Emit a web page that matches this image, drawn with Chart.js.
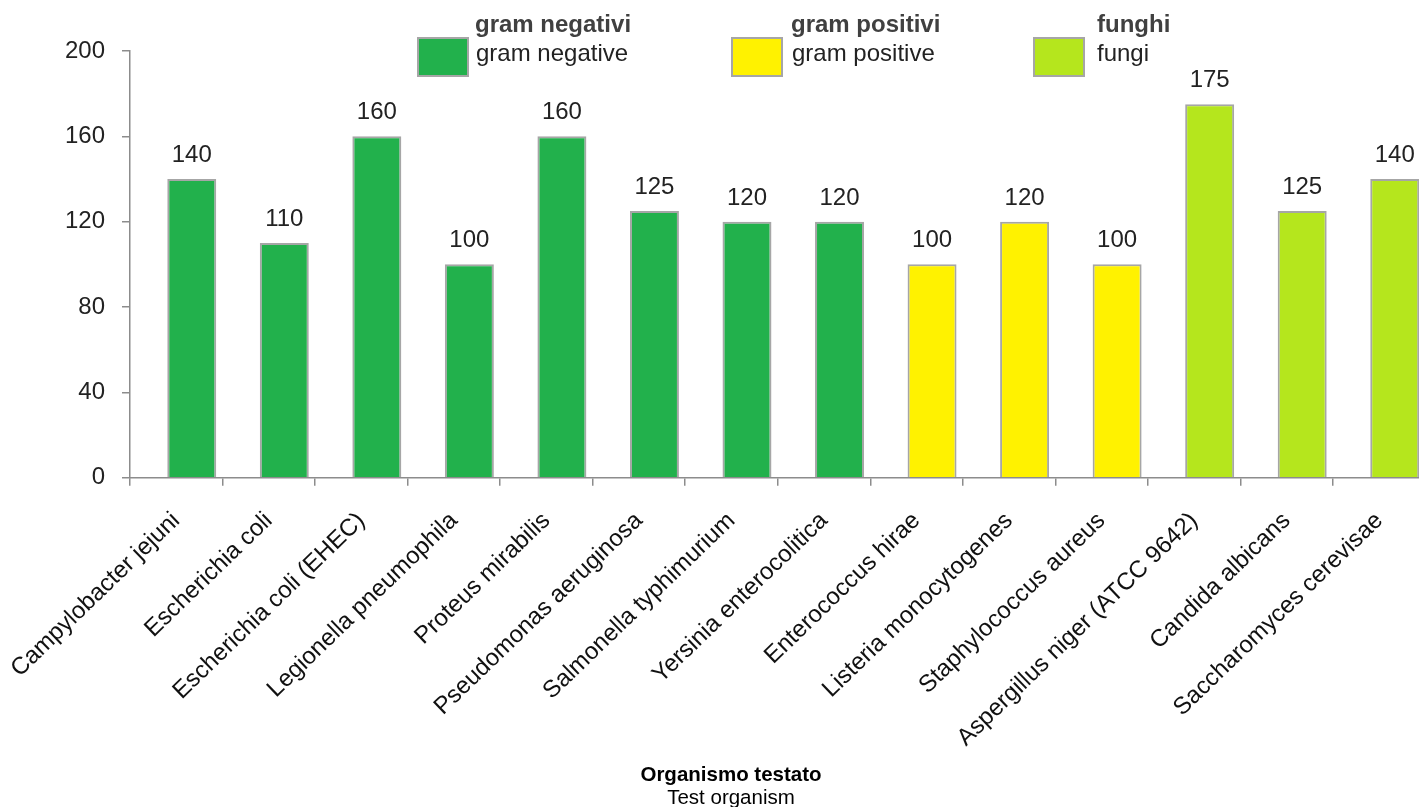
<!DOCTYPE html>
<html>
<head>
<meta charset="utf-8">
<script src="https://cdn.jsdelivr.net/npm/chart.js@4/dist/chart.umd.min.js"></script>
<style>
html,body{margin:0;padding:0;overflow:hidden;background:#fff;width:1419px;height:807px;}
#wrap{position:absolute;left:0;top:0;width:1430px;height:807px;}
.lg{position:absolute;font-family:"Liberation Sans",Arial,sans-serif;}
.box{position:absolute;width:48px;height:36px;border:2px solid #a6a6a6;}
.h{position:absolute;font-weight:bold;font-size:24px;color:#404040;white-space:nowrap;line-height:24px;}
.t{position:absolute;font-size:24px;color:#222;white-space:nowrap;line-height:24px;}
#xt{position:absolute;left:531px;width:400px;top:762px;text-align:center;font-family:"Liberation Sans",Arial,sans-serif;font-size:20.5px;color:#000;line-height:23px;}
</style>
</head>
<body>
<div id="wrap"><canvas id="c"></canvas></div>
<div class="lg">
  <div class="box" style="left:417px;top:37px;background:#22b14c"></div>
  <div class="h" style="left:475px;top:12px">gram negativi</div>
  <div class="t" style="left:476px;top:41px">gram negative</div>
  <div class="box" style="left:731px;top:37px;background:#fff200"></div>
  <div class="h" style="left:791px;top:12px">gram positivi</div>
  <div class="t" style="left:792px;top:41px">gram positive</div>
  <div class="box" style="left:1033px;top:37px;background:#b5e61d"></div>
  <div class="h" style="left:1097px;top:12px">funghi</div>
  <div class="t" style="left:1097px;top:41px">fungi</div>
</div>
<div id="xt"><b>Organismo testato</b><br>Test organism</div>
<script>
const categories = ["Campylobacter jejuni","Escherichia coli","Escherichia coli (EHEC)","Legionella pneumophila","Proteus mirabilis","Pseudomonas aeruginosa","Salmonella typhimurium","Yersinia enterocolitica","Enterococcus hirae","Listeria monocytogenes","Staphylococcus aureus","Aspergillus niger (ATCC 9642)","Candida albicans","Saccharomyces cerevisae"];
const values = [140,110,160,100,160,125,120,120,100,120,100,175,125,140];
const groups = ["neg","neg","neg","neg","neg","neg","neg","neg","pos","pos","pos","fun","fun","fun"];
const groupColors = {neg:"#22b14c", pos:"#fff200", fun:"#b5e61d"};
const yTicks = [0,40,80,120,160,200];

const FONT = "'Liberation Sans', Arial, sans-serif";
Chart.defaults.font.family = FONT;

const valueLabels = {
  id: 'valueLabels',
  afterDatasetsDraw(chart) {
    const ctx = chart.ctx;
    const meta = chart.getDatasetMeta(1);
    ctx.save();
    ctx.font = "24px " + FONT;
    ctx.fillStyle = "#222";
    ctx.textAlign = "center";
    ctx.textBaseline = "alphabetic";
    meta.data.forEach((bar, i) => {
      ctx.fillText(String(values[i]), bar.x, bar.y - 17);
    });
    ctx.restore();
  }
};

new Chart(document.getElementById('c'), {
  type: 'bar',
  data: {
    labels: categories,
    datasets: [
      { // empty slot: the original plot leaves a gap to the left of each bar
        data: categories.map(() => null),
        backgroundColor: "rgba(0,0,0,0)",
        borderWidth: 0
      },
      {
        data: values,
        backgroundColor: groups.map(g => groupColors[g]),
        borderColor: "#a6a6a6",
        borderWidth: 2
      }
    ]
  },
  options: {
    responsive: true,
    maintainAspectRatio: false,
    animation: false,
    categoryPercentage: 0.67,
    barPercentage: 1.58,
    layout: {padding: {top: 51, right: 4.5, bottom: 0, left: 0}},
    plugins: {legend: {display: false}, tooltip: {enabled: false}},
    scales: {
      x: {
        type: 'category',
        offset: true,
        grid: {offset: true, drawOnChartArea: false, drawTicks: true, tickLength: 8, color: "#8c8c8c", lineWidth: 1.5},
        border: {color: "#8c8c8c", width: 1.5},
        ticks: {autoSkip: false, minRotation: 44, maxRotation: 44, padding: 21, color: "#111", font: {size: 24}},
        afterFit(s) { s.height = 807 - 477.7; s.paddingLeft = 0; s.paddingRight = 0; }
      },
      y: {
        min: 0, max: 200,
        afterBuildTicks(s) { s.ticks = yTicks.map(v => ({value: v})); },
        grid: {drawOnChartArea: false, tickLength: 8, color: "#8c8c8c", lineWidth: 1.5},
        border: {color: "#8c8c8c", width: 1.5},
        ticks: {padding: 17, color: "#222", font: {size: 24}},
        afterFit(s) { s.width = 130; s.paddingTop = 0; s.paddingBottom = 0; }
      }
    }
  },
  plugins: [valueLabels]
});
</script>
</body>
</html>
